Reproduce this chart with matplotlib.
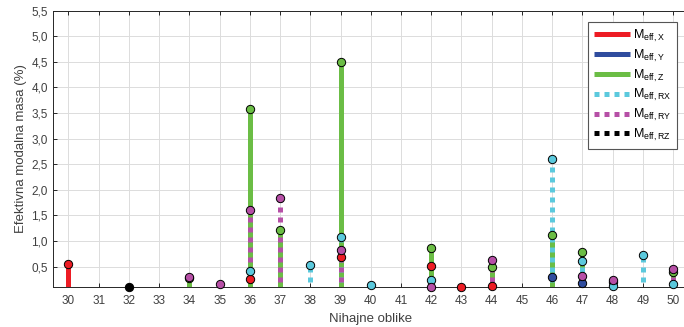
import numpy as np
import matplotlib
matplotlib.use("Agg")
import matplotlib.pyplot as plt
from matplotlib.lines import Line2D
from matplotlib.ticker import FuncFormatter

plt.rcParams['font.family'] = ['Liberation Sans', 'DejaVu Sans']
plt.rcParams['mathtext.default'] = 'regular'

# mode numbers and effective modal mass (%) per direction (nan = not shown)
modes = list(range(30, 51))
nan = np.nan
m_x = {30: 0.54, 36: 0.26, 39: 0.69, 42: 0.52, 43: 0.10, 44: 0.11}
m_y = {46: 0.30, 47: 0.18, 48: 0.20}
m_z = {34: 0.27, 36: 3.57, 37: 1.22, 39: 4.50, 42: 0.87, 44: 0.50, 46: 1.12, 47: 0.79, 50: 0.40}
m_rx = {36: 0.41, 38: 0.53, 39: 1.08, 40: 0.14, 42: 0.23, 46: 2.60, 47: 0.60, 48: 0.11, 49: 0.73, 50: 0.16}
m_ry = {34: 0.30, 35: 0.16, 36: 1.60, 37: 1.84, 39: 0.82, 42: 0.10, 44: 0.63, 47: 0.32, 48: 0.24, 50: 0.45}
m_rz = {32: 0.10}

series = [
    (m_x, '#ED1C24', '-', r'$M_{eff,X}$'),
    (m_y, '#2F4C9E', '-', r'$M_{eff,Y}$'),
    (m_z, '#6BBD45', '-', r'$M_{eff,Z}$'),
    (m_rx, '#5BC9DD', 'dot', r'$M_{eff,RX}$'),
    (m_ry, '#B64FA6', 'dot', r'$M_{eff,RY}$'),
    (m_rz, '#000000', 'dot', r'$M_{eff,RZ}$'),
]

lw = 3.6
fig = plt.figure(figsize=(6.84, 3.27), dpi=100)
ax = fig.add_axes([0.0780, 0.1223, 0.928, 0.845])

handles = []
for i, (vals, col, ls, lab) in enumerate(series):
    style = (0, (1, 1)) if ls == 'dot' else '-'
    for m in modes:
        v = vals.get(m, nan)
        if np.isnan(v):
            continue
        ax.plot([m, m], [0, v], color=col, lw=lw, linestyle=style,
                solid_capstyle='butt', dash_capstyle='butt', zorder=2 + i * 0.1)
    handles.append(Line2D([], [], color=col, lw=lw, linestyle=style,
                          solid_capstyle='butt', dash_capstyle='butt', label=lab))

for i, (vals, col, ls, lab) in enumerate(series):
    xs = [m for m in modes if m in vals]
    ys = [vals[m] for m in xs]
    ax.plot(xs, ys, 'o', color=col, mec='black', mew=0.7, ms=6,
            clip_on=False, zorder=5 + i * 0.1)

ax.set_xlim(29.5, 50.5)
ax.set_ylim(0.1, 5.5)
ax.set_xticks(modes)
ax.set_yticks(np.arange(0.5, 5.51, 0.5))
ax.yaxis.set_major_formatter(FuncFormatter(lambda v, p: f'{v:.1f}'.replace('.', ',')))
ax.grid(True, color='#dcdcdc', lw=0.7)
ax.set_axisbelow(True)
ax.tick_params(direction='in', top=True, right=True, length=3, width=0.7,
               colors='#262626', labelsize=8.5, labelcolor='#404040')
ax.tick_params(axis='x', pad=6)
ax.tick_params(axis='y', pad=4)
for s in ax.spines.values():
    s.set_color('#262626')
    s.set_linewidth(0.7)

ax.set_xlabel('Nihajne oblike', fontsize=9.5, color='#404040', labelpad=4)
ax.set_ylabel('Efektivna modalna masa (%)', fontsize=9.5, color='#404040', labelpad=3)

leg = ax.legend(handles=handles, loc='upper right', bbox_to_anchor=(0.982, 0.958),
                borderaxespad=0, fontsize=9, handlelength=2.9, handletextpad=0.2,
                labelspacing=0.3, fancybox=False, framealpha=1,
                edgecolor='#555555', borderpad=0.45)
leg.get_frame().set_linewidth(0.8)

fig.savefig('out.png', dpi=100)
